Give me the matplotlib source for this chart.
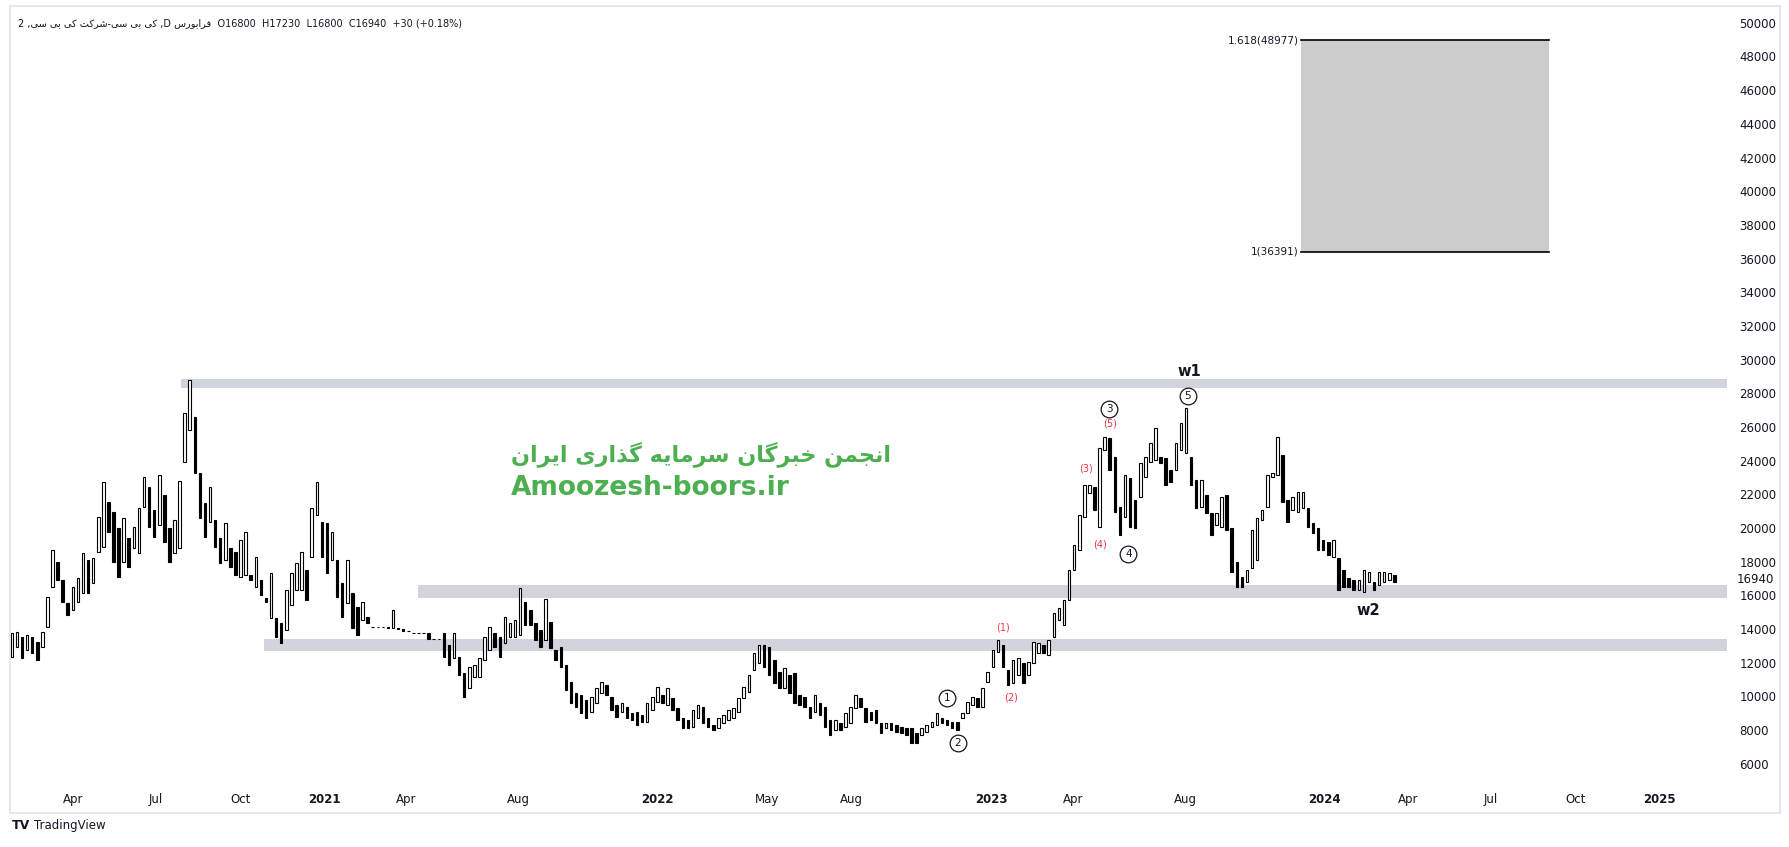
import numpy as np
import pandas as pd
import matplotlib
matplotlib.use("Agg")
import matplotlib.pyplot as plt
import matplotlib.dates as mdates
from matplotlib.patches import Rectangle

plt.rcParams['font.family'] = ['DejaVu Sans']

# ---- price ranges (about one bar per week) ----
highs = [
    13750, 13850, 13550, 13650, 13550, 13250, 13850, 15930, 18700, 18000,
    16920, 15530, 16520, 17010, 18500, 18100, 18200, 20680, 22750, 21570,
    20970, 19980, 20580, 19390, 20080, 21170, 23050, 22460, 21070, 23150,
    21960, 19980, 20480, 22810, 26810, 28790, 26610, 23250, 21470, 22460,
    20480, 19390, 20280, 18800,
    18600, 19290, 19780, 17210, 18300, 16920, 15830, 17310, 14640, 14340,
    16320, 17310, 17900, 18600, 17510, 21170, 22750, 20380, 20280, 19780,
    18100, 16720, 18100, 16120, 15330, 15630, 14740, 14150, 14150, 14150,
    14150, 15130, 14050, 13990, 13900, 13750, 13750, 13750, 13750, 13390,
    13390, 13750, 13060,
    13750, 12360, 11370, 11770, 11870, 12260, 13550, 14140, 13750, 13550,
    14740, 14340, 14540, 16420, 15630, 15130, 14340, 13950, 15790, 14440,
    12760, 12960, 11870, 10880, 10190, 10090, 9790, 9990, 10480, 10880,
    10680, 9990, 9490, 9590, 9390, 9000, 9100, 8900, 9590, 9990,
    10580, 10090, 10480, 9890, 9300, 8700,
    8600, 9200, 9490, 9390, 8700, 8310, 8700, 8900, 9200, 9300,
    9890, 10580, 11270, 12560, 13060, 13060, 12960, 12170, 11470, 11670,
    11270, 11370, 10090, 9990, 9390, 10090, 9590, 9390, 8600, 8600,
    8410, 9000, 9390, 10090, 9890, 9300, 9100, 9200, 8410, 8410,
    8410, 8310, 8210, 8110, 8110, 7810, 8110,
    8310, 8500, 9000, 8700, 8600, 8500, 8500, 9000, 9690, 9990,
    9890, 10480, 11470, 12760, 13350, 13060, 11570, 12170, 12260, 11970,
    12070, 13250, 13150, 13060, 13350, 14940, 15230, 15730, 17510, 18990,
    20770, 22560, 22560, 22460, 24730, 25420, 25330, 24240, 21270, 23150,
    22950, 21660, 23840, 24240, 25030, 25920,
    24240, 24140, 23450, 25030, 26220, 27110, 24240, 22850, 22850, 21960,
    20870, 20870, 21860, 21960, 19980, 18000, 17110, 17510, 19880, 20580,
    21070, 23150, 23250, 25420, 24340, 21660, 21860, 22160, 22160, 21170,
    20280, 19980, 19290, 19190, 19290, 18200, 17510, 17010, 16920, 16920,
    17510, 17410, 16820, 17410, 17410, 17310, 17230,
]
lows = [
    12360, 12960, 12260, 12760, 12560, 12170, 12960, 14140, 16520, 16920,
    15630, 14840, 15130, 15630, 16120, 16120, 16720, 18600, 18890, 19780,
    18000, 17110, 18000, 17710, 18800, 18500, 21270, 20080, 19490, 20180,
    19190, 18000, 18500, 18800, 23940, 25820, 23250, 20580, 19490, 20380,
    18890, 17900, 18100, 17710,
    17210, 17110, 17210, 16920, 16520, 16020, 15630, 14640, 13550, 13150,
    13950, 15430, 16320, 16320, 15730, 18300, 20770, 18300, 17310, 18100,
    15930, 14740, 15530, 14050, 13650, 14540, 14340, 14150, 14150, 14150,
    14050, 14050, 13990, 13900, 13900, 13750, 13750, 13750, 13390, 13390,
    13390, 12360, 11870,
    12260, 11270, 9990, 10480, 11180, 11180, 12170, 12760, 12960, 12360,
    13150, 13550, 13550, 13650, 14240, 14240, 13350, 12960, 13350, 12860,
    12170, 11770, 10380, 9590, 9390, 9000, 8700, 9100, 9590, 10190,
    10090, 9200, 8800, 9100, 8700, 8600, 8310, 8500, 8500, 9200,
    9690, 9590, 9490, 9200, 8600, 8110,
    8110, 8210, 8700, 8410, 8210, 8010, 8110, 8410, 8600, 8700,
    9100, 9890, 10290, 11570, 11970, 11770, 11270, 10780, 10480, 10480,
    10190, 9590, 9490, 9390, 8700, 9100, 8900, 8210, 7710, 8010,
    8010, 8210, 8410, 9300, 9390, 8500, 8600, 8410, 7810, 8110,
    8010, 7910, 7810, 7710, 7220, 7220, 7710,
    7910, 8210, 8310, 8410, 8310, 8110, 8010, 8700, 9000, 9490,
    9390, 9390, 10880, 11770, 12660, 11770, 10680, 10780, 11270, 10780,
    11270, 11970, 12560, 12560, 12460, 13550, 14540, 14240, 15730, 17510,
    18700, 20680, 22060, 21070, 20080, 24630, 23450, 20970, 19590, 20680,
    20080, 19980, 21860, 23050, 23940, 24040,
    23840, 22560, 22750, 23450, 24630, 24440, 22560, 21170, 21270, 20870,
    19590, 20180, 20080, 19880, 17410, 16520, 16520, 16820, 17610, 18100,
    20480, 21270, 23050, 23150, 21570, 20380, 21070, 20970, 21170, 20080,
    19690, 18700, 18700, 18400, 18300, 16320, 16520, 16520, 16320, 16320,
    16220, 16820, 16320, 16620, 16820, 16920, 16800,
]
first_day, last_day = "2020-01-25", "2024-03-17"
last_close = 16940

# horizontal zones: (start date, low, high)
zones = [
    ("2020-07-28", 28330, 28850),
    ("2021-04-13", 15860, 16620),
    ("2020-10-27", 12720, 13410),
]

# fibonacci projection box
fib_start, fib_end = "2023-12-06", "2024-09-02"
fib_low, fib_high = 36391, 48977
fib_low_label, fib_high_label = "1(36391)", "1.618(48977)"

# wave labels
circled = [("1", "2022-11-13", 9890), ("2", "2022-11-25", 7250),
           ("3", "2023-05-10", 27070), ("4", "2023-05-31", 18440),
           ("5", "2023-08-04", 27860)]
red_waves = [("(1)", "2023-01-14", 14100), ("(2)", "2023-01-23", 9920),
             ("(3)", "2023-04-15", 23520), ("(4)", "2023-04-30", 19050),
             ("(5)", "2023-05-11", 26220)]
big_waves = [("w1", "2023-08-06", 29280), ("w2", "2024-02-18", 15090)]

x_ticks = ["2020-04-01", "2020-07-01", "2020-10-01", "2021-01-01", "2021-04-01",
           "2021-08-01", "2022-01-01", "2022-05-01", "2022-08-01", "2023-01-01",
           "2023-04-01", "2023-08-01", "2024-01-01", "2024-04-01", "2024-07-01",
           "2024-10-01", "2025-01-01"]
x_labels = ["Apr", "Jul", "Oct", "2021", "Apr", "Aug", "2022", "May", "Aug", "2023",
            "Apr", "Aug", "2024", "Apr", "Jul", "Oct", "2025"]
y_ticks = list(range(6000, 50001, 2000))


# ---- minimal persian shaping (matplotlib has no RTL / joining) ----
FORMS = {
    'ا': ('\uFE8D', '\uFE8E', None, None),
    'ب': ('\uFE8F', '\uFE90', '\uFE91', '\uFE92'),
    'ت': ('\uFE95', '\uFE96', '\uFE97', '\uFE98'),
    'ج': ('\uFE9D', '\uFE9E', '\uFE9F', '\uFEA0'),
    'خ': ('\uFEA5', '\uFEA6', '\uFEA7', '\uFEA8'),
    'ذ': ('\uFEAB', '\uFEAC', None, None),
    'ر': ('\uFEAD', '\uFEAE', None, None),
    'س': ('\uFEB1', '\uFEB2', '\uFEB3', '\uFEB4'),
    'ش': ('\uFEB5', '\uFEB6', '\uFEB7', '\uFEB8'),
    'ف': ('\uFED1', '\uFED2', '\uFED3', '\uFED4'),
    'م': ('\uFEE1', '\uFEE2', '\uFEE3', '\uFEE4'),
    'ن': ('\uFEE5', '\uFEE6', '\uFEE7', '\uFEE8'),
    'ه': ('\uFEE9', '\uFEEA', '\uFEEB', '\uFEEC'),
    'و': ('\uFEED', '\uFEEE', None, None),
    'ک': ('\uFB8E', '\uFB8F', '\uFB90', '\uFB91'),
    'گ': ('\uFB92', '\uFB93', '\uFB94', '\uFB95'),
    'ی': ('\uFBFC', '\uFBFD', '\uFBFE', '\uFBFF'),
}


def persian(text):
    out = []
    for i, ch in enumerate(text):
        if ch not in FORMS:
            out.append(ch)
            continue
        prev = text[i - 1] if i > 0 else ''
        nxt = text[i + 1] if i + 1 < len(text) else ''
        jp = prev in FORMS and FORMS[prev][2] is not None
        jn = nxt in FORMS and FORMS[ch][2] is not None
        iso, fin, ini, med = FORMS[ch]
        out.append(med if jp and jn else fin if jp else ini if jn else iso)
    return ''.join(reversed(out))


W, H = 1790, 847
fig = plt.figure(figsize=(W / 100, H / 100), dpi=100)
ax = fig.add_axes([10 / W, 1 - 780 / H, 1717 / W, 774 / H])

x = mdates.date2num(pd.date_range(first_day, last_day, periods=len(highs)))
step = x[1] - x[0]
bw = step * 0.5
hi = np.array(highs)
lo = np.array(lows)
mid = (hi + lo) / 2

xmin = mdates.date2num(pd.Timestamp("2020-01-23"))
xmax = mdates.date2num(pd.Timestamp("2025-03-16"))

# zones
for start, z_lo, z_hi in zones:
    s = mdates.date2num(pd.Timestamp(start))
    ax.add_patch(Rectangle((s, z_lo), xmax - s, z_hi - z_lo, facecolor="#d1d4dc",
                           edgecolor="none", zorder=1))

# candles
for i in range(len(x)):
    up = i == 0 or mid[i] >= mid[i - 1]
    ax.add_patch(Rectangle((x[i] - bw / 2, lo[i]), bw, hi[i] - lo[i],
                           facecolor="white" if up else "black",
                           edgecolor="black", lw=0.8, zorder=3))

# fib box
f0 = mdates.date2num(pd.Timestamp(fib_start))
f1 = mdates.date2num(pd.Timestamp(fib_end))
ax.add_patch(Rectangle((f0, fib_low), f1 - f0, fib_high - fib_low,
                       facecolor="#cccccc", edgecolor="none", zorder=1))
ax.plot([f0, f1], [fib_high, fib_high], color="black", lw=1.2, zorder=2)
ax.plot([f0, f1], [fib_low, fib_low], color="black", lw=1.2, zorder=2)
ax.text(f0 - 3, fib_high, fib_high_label, ha="right", va="center", fontsize=7.5,
        color="#131722")
ax.text(f0 - 3, fib_low, fib_low_label, ha="right", va="center", fontsize=7.5,
        color="#131722")

# wave labels
for num, d, p in circled:
    xd = mdates.date2num(pd.Timestamp(d))
    ax.plot(xd, p, "o", ms=12, mfc="white", mec="#131722", mew=0.9, zorder=5)
    ax.text(xd, p, num, ha="center", va="center", fontsize=7.5, color="#131722",
            zorder=6)
for lab, d, p in red_waves:
    ax.text(mdates.date2num(pd.Timestamp(d)), p, lab, ha="center", va="center",
            fontsize=7, color="#f23645", zorder=6)
for lab, d, p in big_waves:
    ax.text(mdates.date2num(pd.Timestamp(d)), p, lab, ha="center", va="center",
            fontsize=10.5, color="#131722", fontweight="semibold", zorder=6)

ax.set_xlim(xmin, xmax)
ax.set_ylim(5036, 50998)
for sp in ax.spines.values():
    sp.set_visible(False)

ax.yaxis.tick_right()
ax.set_yticks(y_ticks)
ax.set_yticklabels([str(v) for v in y_ticks])
ax.tick_params(axis="y", length=0, pad=9, labelsize=8.5, labelcolor="#131722")
ax.set_xticks(mdates.date2num(pd.to_datetime(x_ticks)))
ax.set_xticklabels(x_labels)
ax.tick_params(axis="x", length=0, pad=9, labelsize=8.5, labelcolor="#131722")
for t in ax.get_xticklabels():
    if t.get_text().isdigit():
        t.set_fontweight("bold")
ax.text(1.0 + 9 / 1717 * 1.1, last_close, str(last_close),
        transform=ax.get_yaxis_transform(), ha="left", va="center", fontsize=8.5,
        color="#131722")

# outer frame
fig.add_artist(Rectangle((10 / W, 1 - 813 / H), 1770 / W, 807 / H,
                         transform=fig.transFigure, facecolor="none",
                         edgecolor="#e0e3eb", lw=1.2))

# header line
title = ("2 ," + persian("کی بی سی-شرکت کی بی سی") + " ,D " + persian("فرابورس")
         + "  O16800  H17230  L16800  C16940  +30 (+0.18%)")
fig.text(18 / W, 1 - 23 / H, title, fontsize=7, va="center", color="#131722")

# watermark text
green = "#4caf50"
fig.text(511 / W, 1 - 454 / H, persian("انجمن خبرگان سرمایه گذاری ایران"),
         fontsize=16, fontweight="bold", color=green, va="center", ha="left")
fig.text(511 / W, 1 - 488 / H, "Amoozesh-boors.ir", fontsize=19,
         fontweight="bold", color=green, va="center", ha="left")

# logo
fig.text(12 / W, 1 - 825 / H, "TV", fontsize=9, fontweight="heavy", color="#131722",
         va="center")
fig.text(34 / W, 1 - 825 / H, "TradingView", fontsize=8.5, color="#131722",
         va="center")

fig.savefig("out.png", dpi=100, facecolor="white")
